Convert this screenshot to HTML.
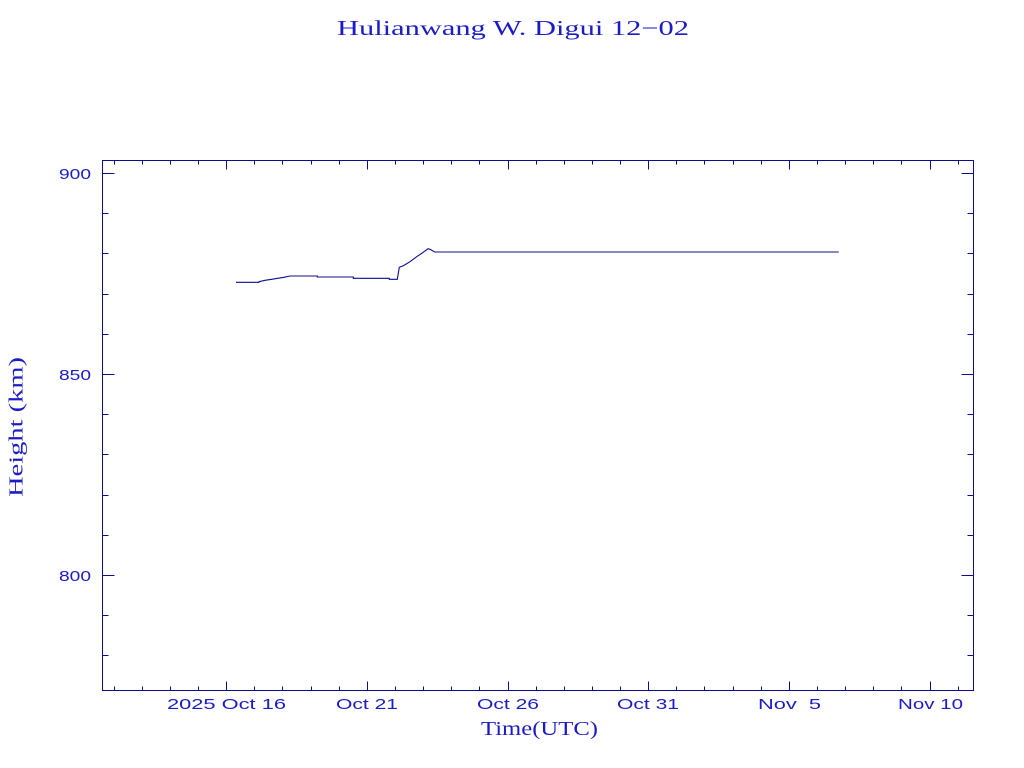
<!DOCTYPE html>
<html>
<head>
<meta charset="utf-8">
<style>
  html, body { margin: 0; padding: 0; background: #ffffff; }
  svg { display: block; }
  .serif { font-family: "Liberation Serif", serif; fill: #1c1cc4; }
  .sans { font-family: "Liberation Sans", sans-serif; fill: #1c1cc4; }
</style>
</head>
<body>
<svg width="1024" height="768" viewBox="0 0 1024 768" xmlns="http://www.w3.org/2000/svg">
  <rect x="0" y="0" width="1024" height="768" fill="#ffffff"/>

  <!-- Title -->
  <text class="serif" x="337" y="35" font-size="21" textLength="352" lengthAdjust="spacingAndGlyphs">Hulianwang W. Digui 12−02</text>

  <!-- Plot frame -->
  <rect x="102.5" y="160.5" width="871" height="530" fill="none" stroke="#0c0c90" stroke-width="1"/>

  <!-- X ticks (bottom & top) -->
  <g stroke="#0c0c90" stroke-width="1" shape-rendering="crispEdges">
    <path d="
      M114.5 690.5 v-4 M142.5 690.5 v-4 M170.5 690.5 v-4 M198.5 690.5 v-4
      M254.5 690.5 v-4 M282.5 690.5 v-4 M311.5 690.5 v-4 M339.5 690.5 v-4
      M395.5 690.5 v-4 M423.5 690.5 v-4 M451.5 690.5 v-4 M479.5 690.5 v-4
      M536.5 690.5 v-4 M564.5 690.5 v-4 M592.5 690.5 v-4 M620.5 690.5 v-4
      M676.5 690.5 v-4 M704.5 690.5 v-4 M733.5 690.5 v-4 M761.5 690.5 v-4
      M817.5 690.5 v-4 M845.5 690.5 v-4 M873.5 690.5 v-4 M901.5 690.5 v-4
      M958.5 690.5 v-4
      M114.5 160.5 v4 M142.5 160.5 v4 M170.5 160.5 v4 M198.5 160.5 v4
      M254.5 160.5 v4 M282.5 160.5 v4 M311.5 160.5 v4 M339.5 160.5 v4
      M395.5 160.5 v4 M423.5 160.5 v4 M451.5 160.5 v4 M479.5 160.5 v4
      M536.5 160.5 v4 M564.5 160.5 v4 M592.5 160.5 v4 M620.5 160.5 v4
      M676.5 160.5 v4 M704.5 160.5 v4 M733.5 160.5 v4 M761.5 160.5 v4
      M817.5 160.5 v4 M845.5 160.5 v4 M873.5 160.5 v4 M901.5 160.5 v4
      M958.5 160.5 v4
      "/>
    <path d="
      M226.5 690.5 v-9 M367.5 690.5 v-9 M508.5 690.5 v-9 M648.5 690.5 v-9 M789.5 690.5 v-9 M930.5 690.5 v-9
      M226.5 160.5 v9 M367.5 160.5 v9 M508.5 160.5 v9 M648.5 160.5 v9 M789.5 160.5 v9 M930.5 160.5 v9
      "/>
  </g>

  <!-- Y ticks (left & right) -->
  <g stroke="#0c0c90" stroke-width="1" shape-rendering="crispEdges">
    <path d="
      M102.5 173.5 h12 M102.5 374.5 h12 M102.5 575.5 h12
      M973.5 173.5 h-12 M973.5 374.5 h-12 M973.5 575.5 h-12
      "/>
    <path d="
      M102.5 213.5 h6 M102.5 253.5 h6 M102.5 294.5 h6 M102.5 334.5 h6
      M102.5 414.5 h6 M102.5 454.5 h6 M102.5 495.5 h6 M102.5 535.5 h6
      M102.5 615.5 h6 M102.5 655.5 h6
      M973.5 213.5 h-6 M973.5 253.5 h-6 M973.5 294.5 h-6 M973.5 334.5 h-6
      M973.5 414.5 h-6 M973.5 454.5 h-6 M973.5 495.5 h-6 M973.5 535.5 h-6
      M973.5 615.5 h-6 M973.5 655.5 h-6
      "/>
  </g>

  <!-- X tick labels -->
  <g class="sans" font-size="15">
    <text x="167" y="709" textLength="119" lengthAdjust="spacingAndGlyphs">2025 Oct 16</text>
    <text x="336" y="709" textLength="62" lengthAdjust="spacingAndGlyphs">Oct 21</text>
    <text x="477" y="709" textLength="62" lengthAdjust="spacingAndGlyphs">Oct 26</text>
    <text x="617" y="709" textLength="62" lengthAdjust="spacingAndGlyphs">Oct 31</text>
    <text x="758" y="709" textLength="63" lengthAdjust="spacingAndGlyphs" xml:space="preserve">Nov  5</text>
    <text x="898" y="709" textLength="65" lengthAdjust="spacingAndGlyphs">Nov 10</text>
  </g>

  <!-- Y tick labels -->
  <g class="sans" font-size="15">
    <text x="59" y="179" textLength="32" lengthAdjust="spacingAndGlyphs">900</text>
    <text x="59" y="380" textLength="32" lengthAdjust="spacingAndGlyphs">850</text>
    <text x="59" y="581" textLength="32" lengthAdjust="spacingAndGlyphs">800</text>
  </g>

  <!-- Axis titles -->
  <text class="serif" x="481" y="735" font-size="20" textLength="117" lengthAdjust="spacingAndGlyphs">Time(UTC)</text>
  <text class="serif" font-size="20" transform="translate(22.5,497) rotate(-90)" textLength="140" lengthAdjust="spacingAndGlyphs">Height (km)</text>

  <!-- Data series -->
  <polyline fill="none" stroke="#0c0c90" stroke-width="1.1" stroke-linejoin="miter"
    points="236,282.3 259,282.3 259,281.7 265,280.3 271.7,279.3 277.7,278.3 284,277.3 290,276 317.3,276 317.3,277 353.3,277 353.3,278.3 389.3,278.3 389.3,279.3 397.3,279.3 399.3,267.3 403.3,265.7 410,261.7 416.7,256.7 422.7,252.7 428,248.7 430,249.3 434.7,252 838.7,252"/>
</svg>
</body>
</html>
